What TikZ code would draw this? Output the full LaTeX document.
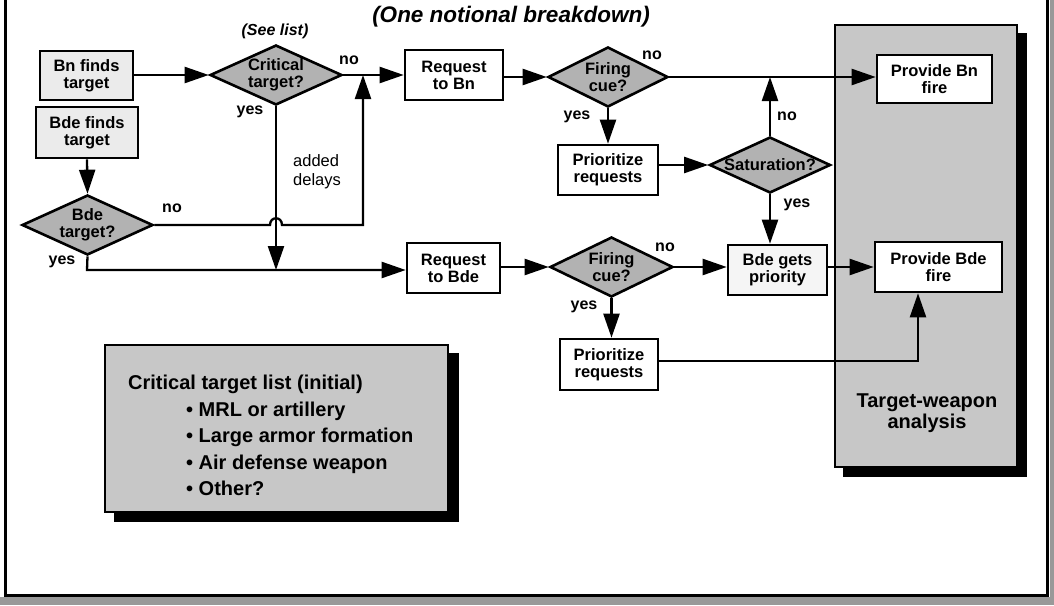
\documentclass[tikz,border=0pt]{standalone}
\usepackage{fontspec}
\setmainfont{Liberation Sans}
\usetikzlibrary{shapes.geometric,arrows.meta,calc,backgrounds}
\begin{document}
\begin{tikzpicture}[x=1pt,y=-1pt,
 nodefont/.style={font=\fontsize{16.5}{17}\selectfont\bfseries},
 box/.style={draw, line width=2.6pt, fill=white, align=center, inner sep=0pt, nodefont},
 dia/.style={diamond, draw, line width=2.6pt, fill=black!30, inner sep=0pt},
 dtext/.style={nodefont, align=center, inner sep=0pt},
 conn/.style={line width=2.3pt},
 arr/.style={conn, -{Triangle[length=24pt,width=16pt]}},
 lab/.style={font=\fontsize{16}{17}\selectfont\bfseries, inner sep=0pt},
 big/.style={font=\fontsize{20}{26.5}\selectfont\bfseries, inner sep=0pt},
 panelbox/.style={draw, line width=2.6pt, fill=black!22, inner sep=0pt},
 shadowfill/.style={fill=black},
]
\useasboundingbox (0,0) rectangle (1054,605);
% outer frame and its shadow strip
\fill[black!40] (0,597) rectangle (1054,605);
\fill[black!40] (1050,0) rectangle (1054,605);
\draw[line width=3pt] (5,0) -- (5,595) -- (1047,595) -- (1047,0);

% title
\node[font=\fontsize{22.5}{24}\selectfont\bfseries\itshape, inner sep=0pt] (title) at (511,17) {(One notional breakdown)};
\node[font=\fontsize{16}{17}\selectfont\bfseries\itshape, inner sep=0pt] (seelist) at (275,31) {(See list)};

% panel
\node[panelbox, minimum width=182pt, minimum height=442pt] (panel) at (926,246) {};
\node[big, align=center, font=\fontsize{20}{21}\selectfont\bfseries] (panellab) at (927,413) {Target-weapon\\analysis};

% list box
\node[panelbox, minimum width=343pt, minimum height=167pt] (list) at (276.5,428.5) {};
\node[big, align=left, anchor=north west] (listtxt) at (128,375) {Critical target list (initial)\\
\hspace*{58pt}\textbullet\ MRL or artillery\\
\hspace*{58pt}\textbullet\ Large armor formation\\
\hspace*{58pt}\textbullet\ Air defense weapon\\
\hspace*{58pt}\textbullet\ Other?};

\begin{scope}[on background layer]
\fill[shadowfill] ($(panel.north west)+(9,9)$) rectangle ($(panel.south east)+(9,9)$);
\fill[shadowfill] ($(list.north west)+(10,9)$) rectangle ($(list.south east)+(10,9)$);
\end{scope}

% boxes
\node[box, fill=black!8, minimum width=93pt, minimum height=49pt] (bn) at (86.5,75.5) {Bn finds\\target};
\node[box, fill=black!8, minimum width=102pt, minimum height=51pt] (bde) at (87,132.5) {Bde finds\\target};
\node[box, minimum width=98pt, minimum height=50pt] (reqbn) at (454,75) {Request\\to Bn};
\node[box, minimum width=100pt, minimum height=50pt] (pr1) at (608,170) {Prioritize\\requests};
\node[box, minimum width=115pt, minimum height=48pt] (provbn) at (934.5,79) {Provide Bn\\fire};
\node[box, minimum width=93pt, minimum height=50pt] (reqbde) at (453.5,268) {Request\\to Bde};
\node[box, minimum width=98pt, minimum height=51pt] (pr2) at (609,364.5) {Prioritize\\requests};
\node[box, fill=black!4, minimum width=99pt, minimum height=50pt] (bdegp) at (777.5,270) {Bde gets\\priority};
\node[box, minimum width=127pt, minimum height=50pt] (provbde) at (938.5,267) {Provide Bde\\fire};

% diamonds
\node[dia, minimum width=132pt, minimum height=60pt, label={[dtext]center:Critical\\target?}] (crit) at (276,75) {};
\node[dia, minimum width=131pt, minimum height=60pt, label={[dtext]center:Bde\\target?}] (bdet) at (87.5,225) {};
\node[dia, minimum width=120pt, minimum height=60pt, label={[dtext]center:Firing\\cue?}] (fc1) at (608,77) {};
\node[dia, minimum width=121pt, minimum height=56pt, label={[dtext]center:Saturation?}] (sat) at (770,165) {};
\node[dia, minimum width=123pt, minimum height=60pt, label={[dtext]center:Firing\\cue?}] (fc2) at (611.5,267) {};

\coordinate (j1) at (363,75);
\coordinate (j2) at (87,270);
\coordinate (j3) at (918,361);

% connectors
\draw[arr] (bn.east |- crit.west) -- (crit.west);
\draw[arr] (bde.south) -- (bdet.north);
\draw[arr] (crit.east) -- (reqbn.west);
\draw[arr] (bdet.east) -- ($(crit.south |- bdet.east)+(-6,0)$)
  .. controls ($(crit.south |- bdet.east)+(-6,-9)$) and ($(crit.south |- bdet.east)+(6,-9)$) .. ($(crit.south |- bdet.east)+(6,0)$)
  -- (j1 |- bdet.east) -- (j1);
\draw[arr] (crit.south) -- (crit.south |- j2);
\draw[arr] (bdet.south) -- (j2) -- (reqbde.west |- j2);
\draw[arr] (reqbn.east |- fc1.west) -- (fc1.west);
\draw[arr] (fc1.south) -- (pr1.north);
\draw[arr] (fc1.east) -- (provbn.west |- fc1.east);
\draw[arr] (pr1.east |- sat.west) -- (sat.west);
\draw[arr] (sat.north) -- (sat.north |- fc1.east);
\draw[arr] (sat.south) -- (sat.south |- bdegp.north);
\draw[arr] (reqbde.east |- fc2.west) -- (fc2.west);
\draw[arr] (fc2.east) -- (bdegp.west |- fc2.east);
\draw[arr] (fc2.south) -- (fc2.south |- pr2.north);
\draw[arr] (bdegp.east |- provbde.west) -- (provbde.west);
\draw[arr] (pr2.east |- j3) -- (j3) -- (j3 |- provbde.south);

% labels
\node[lab] (l1) at (349,60) {no};
\node[lab] (l2) at (250,112) {yes};
\node[lab] (l3) at (172,208) {no};
\node[lab] (l4) at (62,262) {yes};
\node[lab] (l5) at (652,55) {no};
\node[lab] (l6) at (577,117) {yes};
\node[lab] (l7) at (787,116) {no};
\node[lab] (l8) at (797,205) {yes};
\node[lab] (l9) at (665,247) {no};
\node[lab] (l10) at (584,307) {yes};
\node[font=\fontsize{16.5}{19}\selectfont, align=left, inner sep=0pt, anchor=west] (delay) at (293,172) {added\\delays};
\end{tikzpicture}
\end{document}
